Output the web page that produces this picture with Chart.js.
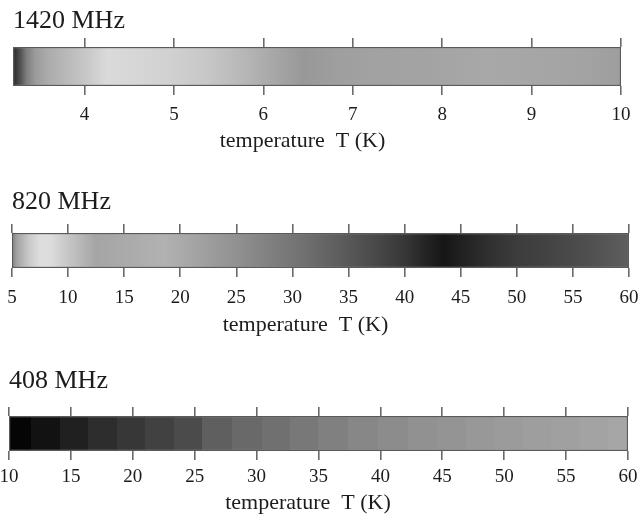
<!DOCTYPE html>
<html>
<head>
<meta charset="utf-8">
<script src="https://cdn.jsdelivr.net/npm/chart.js@4/dist/chart.umd.min.js"></script>
<style>
  body { margin: 0; background: #fff; }
  .panel { position: absolute; left: 0; }
</style>
</head>
<body>
<canvas id="band1420" class="panel" width="639" height="160" style="top:0px"></canvas>
<canvas id="band820" class="panel" width="639" height="160" style="top:180px"></canvas>
<canvas id="band408" class="panel" width="639" height="160" style="top:355px"></canvas>
<script>
// 1420 MHz: brightness along temperature (smooth)
const temps1420 = [3.2, 3.28, 3.35, 3.45, 3.6, 3.8, 4.0, 4.25, 4.6, 5.0, 5.4, 5.8, 6.1, 6.45, 6.8, 7.2, 7.8, 8.5, 9.0, 9.6, 10];
const grays1420 = [40, 80, 125, 155, 172, 185, 198, 218, 214, 208, 198, 182, 168, 152, 158, 162, 163, 168, 166, 163, 158];
const ticks1420 = [4, 5, 6, 7, 8, 9, 10];

// 820 MHz: brightness along temperature (smooth)
const temps820 = [5, 5.5, 6.5, 7.5, 8.5, 9.5, 11, 12.5, 14, 16, 18.5, 20.5, 23, 25, 28, 31, 33, 35, 37.5, 40, 42, 43.5, 45, 47.5, 50, 53, 56, 58.5, 60];
const grays820 = [130, 165, 200, 222, 220, 205, 185, 165, 168, 172, 178, 168, 155, 145, 128, 112, 100, 88, 72, 55, 35, 22, 32, 48, 60, 68, 78, 88, 95];
const ticks820 = [5, 10, 15, 20, 25, 30, 35, 40, 45, 50, 55, 60];

// 408 MHz: banded brightness, band edges and one gray per band
const edges408 = [10, 11.8, 14.1, 16.4, 18.7, 21.0, 23.3, 25.6, 28.0, 30.4, 32.7, 35.0, 37.4, 39.8, 42.2, 44.6, 46.9, 49.2, 51.5, 53.8, 56.1, 58.4, 60];
const grays408 = [5, 18, 32, 45, 55, 65, 75, 95, 105, 112, 120, 128, 135, 140, 145, 148, 152, 155, 158, 160, 163, 166];
const ticks408 = [10, 15, 20, 25, 30, 35, 40, 45, 50, 55, 60];

const SERIF = "'Liberation Serif', 'Times New Roman', serif";
const INK = '#1c1c1c';
const TICK_GREY = '#6a6a6a';
const AXIS_TEXT = 'temperature  T (K)';

function grey(g) {
  return `rgb(${g},${g},${g})`;
}

// Build a horizontal gradient whose stops sit on the x scale
function bandGradient(chart, temps, grays, stepped) {
  const xs = chart.scales.x;
  if (!xs) return grey(grays[0]);
  const x0 = xs.getPixelForValue(temps[0]);
  const x1 = xs.getPixelForValue(temps[temps.length - 1]);
  // scale not laid out yet on the very first pass
  if (!isFinite(x0) || !isFinite(x1) || x1 <= x0) return grey(grays[0]);
  const grad = chart.ctx.createLinearGradient(x0, 0, x1, 0);
  const off = t => Math.min(1, Math.max(0, (xs.getPixelForValue(t) - x0) / (x1 - x0)));
  if (stepped) {
    for (let i = 0; i < grays.length; i++) {
      grad.addColorStop(off(temps[i]), grey(grays[i]));
      grad.addColorStop(off(temps[i + 1]), grey(grays[i]));
    }
  } else {
    temps.forEach((t, i) => grad.addColorStop(off(t), grey(grays[i])));
  }
  return grad;
}

// axis caption sits a little left of centre under each band
const axisCaption = {
  id: 'axisCaption',
  afterDraw(chart, args, opts) {
    const { ctx, chartArea } = chart;
    ctx.save();
    ctx.font = `${opts.size}px ${SERIF}`;
    ctx.fillStyle = INK;
    ctx.textAlign = 'center';
    ctx.textBaseline = 'middle';
    ctx.fillText(opts.text, (chartArea.left + chartArea.right) / 2 + opts.dx, opts.y);
    ctx.restore();
  }
};

function makeBand(id, label, temps, grays, tickVals, stepped, geo) {
  const min = temps[0];
  const max = temps[temps.length - 1];
  const setTicks = axis => { axis.ticks = tickVals.map(v => ({ value: v })); };
  const tickGrid = {
    drawOnChartArea: false,
    drawTicks: true,
    tickLength: 9,
    color: TICK_GREY,
    lineWidth: 1.6
  };

  return new Chart(document.getElementById(id), {
    type: 'bar',
    plugins: [axisCaption],
    data: {
      labels: [''],
      datasets: [{
        data: [[min, max]],
        backgroundColor: ctx => bandGradient(ctx.chart, temps, grays, stepped),
        borderColor: '#5a5a5a',
        borderWidth: 1.5,
        borderSkipped: false,
        barPercentage: 1,
        categoryPercentage: 1
      }]
    },
    options: {
      indexAxis: 'y',
      responsive: false,
      animation: false,
      events: [],
      layout: { padding: { left: geo.left, right: geo.right, top: 0, bottom: 0 } },
      plugins: {
        legend: { display: false },
        tooltip: { enabled: false },
        title: {
          display: true,
          text: label,
          align: 'start',
          color: INK,
          font: { family: SERIF, size: 26, weight: 'normal', lineHeight: 1.2 },
          padding: { top: geo.titleTop, bottom: geo.titleBottom }
        },
        axisCaption: { text: AXIS_TEXT, size: 22, dx: geo.captionDx, y: geo.captionY }
      },
      scales: {
        y: { display: false },
        x: {
          type: 'linear',
          position: 'bottom',
          min: min,
          max: max,
          afterBuildTicks: setTicks,
          afterFit: s => { s.height = geo.bottomAxis; s.paddingLeft = 0; s.paddingRight = 0; },
          border: { display: false },
          grid: tickGrid,
          ticks: {
            color: INK,
            padding: geo.tickPad,
            maxRotation: 0,
            font: { family: SERIF, size: 19, lineHeight: 1.2 }
          }
        },
        x2: {
          type: 'linear',
          position: 'top',
          min: min,
          max: max,
          afterBuildTicks: setTicks,
          afterFit: s => { s.height = 9; s.paddingLeft = 0; s.paddingRight = 0; },
          border: { display: false },
          grid: tickGrid,
          ticks: { display: false }
        }
      }
    }
  });
}

const charts = [
  makeBand('band1420', '1420 MHz', temps1420, grays1420, ticks1420, false,
    { left: 13, right: 18, titleTop: 5.4, titleBottom: 1.4, bottomAxis: 74, tickPad: 8.6, captionDx: -14.5, captionY: 141 }),
  makeBand('band820', '820 MHz', temps820, grays820, ticks820, false,
    { left: 12, right: 10, titleTop: 6.4, titleBottom: 6.4, bottomAxis: 72, tickPad: 9.6, captionDx: -15, captionY: 145 }),
  makeBand('band408', '408 MHz', edges408, grays408, ticks408, true,
    { left: 9, right: 11, titleTop: 10.4, titleBottom: 10.4, bottomAxis: 64, tickPad: 5.6, captionDx: -10.5, captionY: 148 })
];
// second pass so the gradients see the finished scales
charts.forEach(c => c.update());
</script>
</body>
</html>
